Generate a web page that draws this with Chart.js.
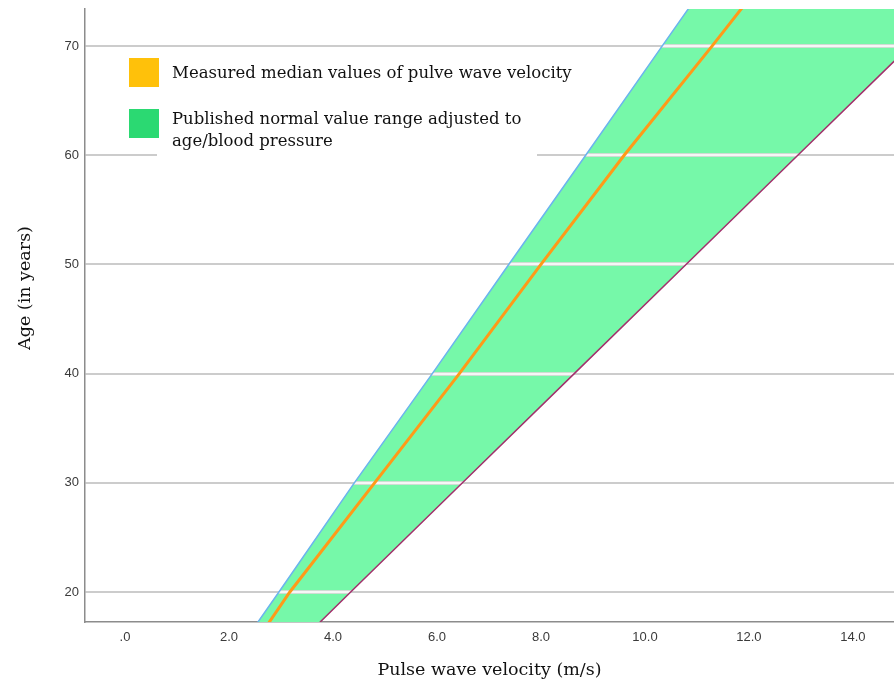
<!DOCTYPE html>
<html>
<head>
<meta charset="utf-8">
<script src="https://cdn.jsdelivr.net/npm/chart.js@4"></script>
<style>
  html, body { margin: 0; padding: 0; background: #fff; }
  #wrap { position: relative; width: 894px; height: 683px; }
  #legendBox { position: absolute; left: 157px; top: 50px; width: 380px; height: 110px; background: #fff; }
  .sw { position: absolute; left: 129px; width: 30px; height: 29px; }
  .lbl { position: absolute; left: 172px; font-family: "DejaVu Serif", serif; font-size: 16.5px; line-height: 22px; color: #111; white-space: nowrap; }
</style>
</head>
<body>
<div id="wrap">
  <canvas id="pwvChart" width="894" height="683"></canvas>
  <div id="legendBox"></div>
  <div class="sw" style="top:58px;background:#ffc10a"></div>
  <div class="lbl" style="top:62px">Measured median values of pulve wave velocity</div>
  <div class="sw" style="top:109px;background:#2bd972"></div>
  <div class="lbl" style="top:108px">Published normal value range adjusted to<br>age/blood pressure</div>
</div>
<script>
// Tuổi (trục y) và vận tốc sóng mạch (trục x)
const ageLevels = [17, 20, 30, 40, 50, 60, 70, 74];
const lowerNormal = [2.52, 2.96, 4.41, 5.91, 7.38, 8.86, 10.33, 10.92];
const medianPwv = [2.74, 3.17, 4.80, 6.43, 8.00, 9.60, 11.29, 11.95];
const upperNormal = [3.70, 4.34, 6.49, 8.64, 10.79, 12.94, 15.09, 15.95];
const xTicks = [0, 2, 4, 6, 8, 10, 12, 14];
const yTicks = [20, 30, 40, 50, 60, 70];

const toPoints = (xs) => xs.map((x, i) => ({ x: x, y: ageLevels[i] }));

// Vùng bình thường: biên dưới rồi biên trên đảo ngược
const bandPoints = toPoints(lowerNormal).concat(toPoints(upperNormal).reverse());

// Vẽ đường lưới trắng đè lên vùng xanh
const gridOverBand = {
    id: 'gridOverBand',
    afterDatasetDraw(chart, args) {
        if (args.index !== 0) return;
        const ctx = chart.ctx;
        const area = chart.chartArea;
        const yScale = chart.scales.y;
        const pts = args.meta.data;
        ctx.save();
        ctx.beginPath();
        ctx.rect(area.left, area.top, area.right - area.left, area.bottom - area.top);
        ctx.clip();
        ctx.beginPath();
        pts.forEach((p, i) => i ? ctx.lineTo(p.x, p.y) : ctx.moveTo(p.x, p.y));
        ctx.closePath();
        ctx.clip();
        yTicks.forEach(v => {
            const y = Math.round(yScale.getPixelForValue(v));
            ctx.fillStyle = '#cfdcd3';
            ctx.fillRect(area.left, y - 2, area.right - area.left, 4);
            ctx.fillStyle = '#f6f6f6';
            ctx.fillRect(area.left, y - 1, area.right - area.left, 2);
        });
        ctx.restore();
    }
};

// Tiêu đề trục
const axisTitles = {
    id: 'axisTitles',
    afterDraw(chart) {
        const ctx = chart.ctx;
        const area = chart.chartArea;
        ctx.save();
        ctx.fillStyle = '#111';
        ctx.font = '17.5px "DejaVu Serif", serif';
        ctx.textAlign = 'center';
        ctx.textBaseline = 'middle';
        ctx.fillText('Pulse wave velocity (m/s)', (area.left + area.right) / 2, 670);
        ctx.translate(25, 288);
        ctx.rotate(-Math.PI / 2);
        ctx.fillText('Age (in years)', 0, 0);
        ctx.restore();
    }
};

const tickFont = { family: '"Liberation Sans", sans-serif', size: 13 };

const ctx = document.getElementById('pwvChart').getContext('2d');
const pwvChart = new Chart(ctx, {
    type: 'scatter',
    data: {
        datasets: [{
            label: 'Published normal value range adjusted to age/blood pressure',
            data: bandPoints,
            showLine: true,
            fill: 'shape',
            backgroundColor: '#76f8a9',
            borderWidth: 0,
            pointRadius: 0,
            order: 10
        }, {
            label: 'lower',
            data: toPoints(lowerNormal),
            showLine: true,
            borderColor: '#6bb3ee',
            borderWidth: 1.5,
            pointRadius: 0,
            order: 2
        }, {
            label: 'upper',
            data: toPoints(upperNormal),
            showLine: true,
            borderColor: '#a2306c',
            borderWidth: 1.5,
            pointRadius: 0,
            order: 2
        }, {
            label: 'Measured median values of pulve wave velocity',
            data: toPoints(medianPwv),
            showLine: true,
            borderColor: '#ff9a18',
            borderWidth: 3,
            pointRadius: 0,
            order: 1
        }]
    },
    options: {
        responsive: false,
        animation: false,
        layout: { padding: { top: 9, right: 0, left: 0, bottom: 0 } },
        plugins: {
            legend: { display: false },
            tooltip: { enabled: false }
        },
        scales: {
            x: {
                type: 'linear',
                min: -0.77,
                max: 14.79,
                afterBuildTicks: (scale) => { scale.ticks = xTicks.map(v => ({ value: v })); },
                afterFit: (scale) => { scale.height = 61; scale.paddingLeft = 0; scale.paddingRight = 0; },
                grid: { display: false, drawTicks: false },
                border: { display: true, color: '#8c8c8c', width: 1.5 },
                ticks: {
                    padding: 8,
                    color: '#3a3a3a',
                    font: tickFont,
                    callback: (v) => v === 0 ? '.0' : v.toFixed(1)
                }
            },
            y: {
                type: 'linear',
                min: 17.25,
                max: 73.4,
                afterBuildTicks: (scale) => { scale.ticks = yTicks.map(v => ({ value: v })); },
                afterFit: (scale) => { scale.width = 85; scale.paddingTop = 0; scale.paddingBottom = 0; },
                grid: { color: '#cccccc', lineWidth: 2, drawTicks: false },
                border: { display: true, color: '#8c8c8c', width: 1.5 },
                ticks: {
                    padding: 6,
                    color: '#3a3a3a',
                    font: tickFont
                }
            }
        }
    },
    plugins: [gridOverBand, axisTitles]
});
</script>
</body>
</html>
